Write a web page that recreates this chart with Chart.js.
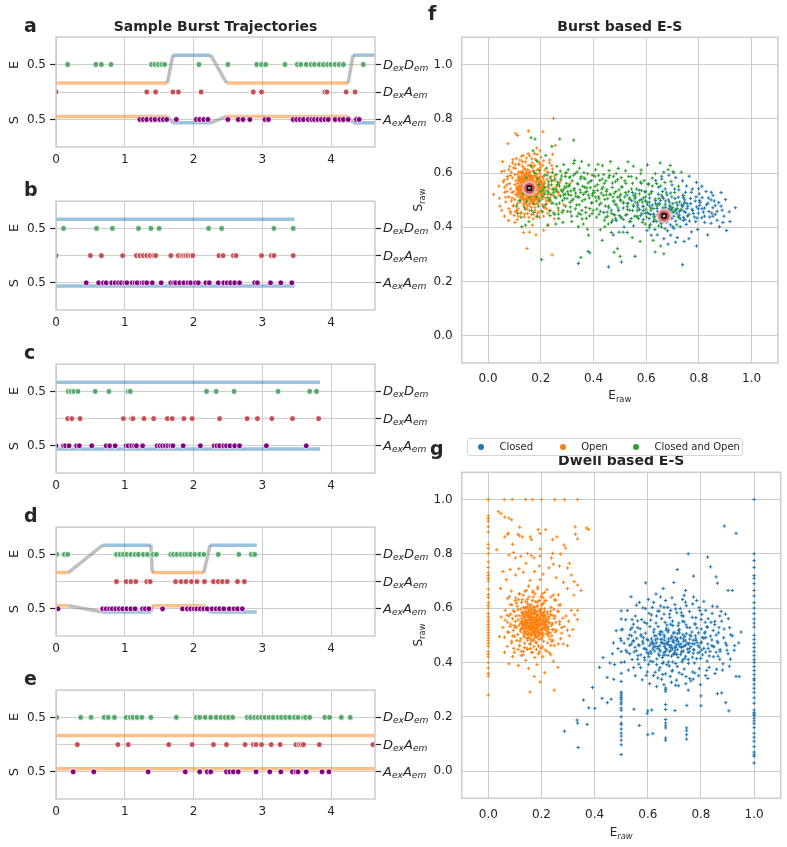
<!DOCTYPE html>
<html><head><meta charset="utf-8">
<script src="https://cdn.jsdelivr.net/npm/chart.js@4.4.1/dist/chart.umd.min.js"></script>
<style>
html,body{margin:0;padding:0;background:#fff}
body{width:787px;height:847px;position:relative;overflow:hidden;font-family:"DejaVu Sans",sans-serif;color:#262626}
canvas{position:absolute}
.lbl{position:absolute;white-space:nowrap;font-family:"DejaVu Sans",sans-serif;color:#262626;line-height:1}
.lbl sub{font-size:0.7em;vertical-align:-0.3em;line-height:0}
.letter{font-size:19px;font-weight:bold;line-height:19px}
.stream{font-size:13px;font-style:italic;line-height:13px}
.axname{font-size:13px;line-height:13px}
.atitle{font-size:12px;line-height:12px}
.legbox{position:absolute;border:1px solid #d6d6d6;border-radius:3px;background:rgba(255,255,255,0.85);box-sizing:border-box}
.legdot{position:absolute;width:6px;height:6px;border-radius:50%}
.legtxt{position:absolute;font-size:10px;line-height:10px;white-space:nowrap;color:#262626}
</style></head><body>
<script>
// ================= DATA =================
// --- burst trajectories (panels a-e) ---
const trajXTicks = [0, 1, 2, 3, 4];
const trajXMax = 4.64;
const streamLevels = [3, 2, 1];               // DexDem, DexAem, AexAem rows
const streamLabels = ['<i>D<sub>ex</sub>D<sub>em</sub></i>', '<i>D<sub>ex</sub>A<sub>em</sub></i>', '<i>A<sub>ex</sub>A<sub>em</sub></i>'];
const leftTickValues = [1, 3];
const leftTickLabels = ['0.5', '0.5'];
const leftAxisNames = ['S', 'E'];
const stateLevelE = {open: 2.33, closed: 3.34};
const stateLevelS = {open: 1.11, closed: 0.88};

const aDD = [0.17,0.58,0.66,0.80,1.39,1.44,1.49,1.54,1.58,2.08,2.50,2.92,2.99,3.05,3.33,3.51,3.56,3.64,3.71,3.76,3.83,3.89,3.95,4.00,4.06,4.12,4.18,4.47];
const aDA = [0.0,1.32,1.45,1.70,1.78,2.11,2.87,2.99,3.91,3.94,4.22,4.35];
const aAA = [1.22,1.27,1.32,1.39,1.44,1.51,1.56,1.61,1.75,2.04,2.09,2.15,2.21,2.50,2.65,2.72,2.82,3.04,3.09,3.45,3.50,3.55,3.60,3.67,3.72,3.76,3.81,3.86,3.91,3.96,4.06,4.13,4.18,4.25,4.37,4.41];
const aDwellStart = [0, 1.70, 2.48, 4.32];
const aDwellEnd = [1.62, 2.25, 4.25, 4.64];
const aDwellState = ['open', 'closed', 'open', 'closed'];

const bDD = [0.11,0.59,0.82,1.20,1.38,1.50,2.22,2.41,3.17,3.45];
const bDA = [0,0.50,0.66,0.97,1.17,1.22,1.27,1.32,1.37,1.42,1.45,1.67,1.78,1.83,1.86,1.89,1.92,1.96,1.99,2.37,2.43,2.58,2.62,2.99,3.13,3.17,3.45];
const bAA = [0.44,0.62,0.69,0.73,0.81,0.86,0.91,0.95,1.00,1.03,1.11,1.15,1.18,1.25,1.28,1.32,1.40,1.53,1.67,1.71,1.74,1.80,1.86,1.92,1.96,2.03,2.07,2.18,2.23,2.36,2.44,2.49,2.54,2.60,2.67,2.89,2.93,3.12,3.27,3.43];
const bDwellStart = [0];
const bDwellEnd = [3.47];
const bDwellState = ['closed'];

const cDD = [0.18,0.22,0.26,0.32,0.57,0.77,1.05,1.08,2.19,2.33,2.59,3.23,3.69,3.79];
const cDA = [0.17,0.23,0.35,0.98,1.10,1.12,1.28,1.42,1.62,1.69,1.86,1.98,2.38,2.78,2.93,3.14,3.44,3.82];
const cAA = [0,0.11,0.14,0.19,0.30,0.34,0.52,0.73,0.78,0.86,1.02,1.05,1.10,1.14,1.17,1.26,1.47,1.51,1.55,1.59,1.63,1.67,1.70,1.85,2.10,2.30,2.34,2.38,2.44,2.48,2.53,2.60,2.67,3.06,3.64];
const cDwellStart = [0];
const cDwellEnd = [3.84];
const cDwellState = ['closed'];

const dDD = [0.01,0.12,0.17,0.88,0.93,0.98,1.03,1.09,1.15,1.20,1.27,1.33,1.41,1.46,1.67,1.71,1.76,1.82,1.87,1.91,1.96,2.02,2.09,2.15,2.36,2.66,2.84,2.89];
const dDA = [0.88,1.02,1.09,1.16,1.32,1.37,1.74,1.82,1.89,1.97,2.05,2.16,2.29,2.36,2.42,2.49,2.64,2.74];
const dAA = [0.03,0.68,0.73,0.78,0.82,0.87,0.92,0.97,1.03,1.09,1.15,1.26,1.30,1.35,1.55,1.84,1.91,1.96,2.01,2.05,2.10,2.15,2.20,2.27,2.33,2.38,2.44,2.52,2.59,2.64,2.71];
const dDwellStart = [0, 0.68, 1.40, 2.24];
const dDwellEnd = [0.18, 1.38, 2.15, 2.92];
const dDwellState = ['open', 'closed', 'open', 'closed'];

const eDD = [0.01,0.36,0.51,0.70,0.76,0.85,1.02,1.08,1.12,1.18,1.25,1.38,1.75,2.04,2.09,2.17,2.25,2.33,2.40,2.46,2.51,2.57,2.78,2.83,2.89,2.94,2.99,3.04,3.10,3.16,3.23,3.28,3.34,3.40,3.47,3.52,3.60,3.63,3.69,3.91,3.98,4.15,4.28];
const eDA = [0.31,0.90,1.05,1.64,1.98,2.29,2.48,2.75,2.87,2.91,2.99,3.13,3.26,3.49,3.54,3.57,3.60,3.83,4.61];
const eAA = [0.25,0.55,1.34,1.88,2.09,2.20,2.25,2.48,2.53,2.58,2.65,2.91,3.11,3.27,3.44,3.49,3.52,3.64,3.87,3.97];
const eDwellStart = [0];
const eDwellEnd = [4.64];
const eDwellState = ['open'];

// --- E-S scatter (panels f, g) ---
const esTicks = [0, 0.2, 0.4, 0.6, 0.8, 1.0];
const seriesNames = ['Closed', 'Open', 'Closed and Open'];
const seriesColors = ['#1f77b4', '#ff7f0e', '#2ca02c'];
const stateCenterE = [0.157, 0.668];
const stateCenterS = [0.544, 0.442];

const fOpen = [[.152,.548],[.138,.561],[.171,.532],[.163,.575],[.128,.522],[.184,.556],[.147,.507],[.196,.541],[.119,.553],[.158,.592],
[.175,.498],[.133,.584],[.201,.571],[.142,.536],[.166,.514],[.109,.538],[.188,.523],[.155,.566],[.124,.497],[.179,.589],
[.137,.545],[.162,.551],[.149,.528],[.171,.561],[.116,.571],[.193,.505],[.145,.603],[.208,.552],[.131,.511],[.168,.539],
[.157,.482],[.102,.557],[.185,.577],[.139,.569],[.176,.546],[.123,.536],[.198,.588],[.161,.527],[.144,.556],[.213,.531],
[.129,.598],[.172,.606],[.153,.517],[.111,.515],[.189,.542],[.136,.489],[.167,.582],[.204,.518],[.148,.574],[.119,.584],
[.181,.511],[.158,.535],[.097,.531],[.143,.521],[.174,.522],[.132,.551],[.195,.563],[.165,.497],[.127,.565],[.151,.612],
[.186,.596],[.115,.545],[.209,.579],[.141,.492],[.169,.568],[.134,.529],[.178,.534],[.156,.559],[.106,.572],[.192,.529],
[.147,.542],[.163,.505],[.122,.508],[.183,.568],[.138,.617],[.214,.561],[.159,.583],[.126,.547],[.171,.515],[.149,.565],
[.101,.503],[.197,.552],[.135,.575],[.166,.623],[.118,.527],[.187,.487],[.154,.526],[.143,.587],[.205,.539],[.129,.538],
[.177,.555],[.162,.542],[.113,.596],[.191,.613],[.139,.502],[.168,.549],[.152,.571],[.182,.502],[.124,.576],[.218,.546],
[.085,.541],[.092,.582],[.078,.512],[.231,.558],[.226,.521],[.238,.587],[.095,.478],[.104,.617],[.245,.541],[.088,.603],
[.221,.497],[.157,.461],[.142,.466],[.178,.472],[.167,.637],[.131,.642],[.197,.632],[.114,.468],[.205,.483],[.071,.556],
[.082,.625],[.251,.572],[.236,.508],[.104,.458],[.123,.451],[.188,.452],[.215,.611],[.228,.602],[.145,.655],[.179,.651],
[.063,.529],[.067,.493],[.257,.532],[.094,.649],[.211,.645],[.165,.447],[.137,.438],[.203,.461],[.079,.469],[.245,.615],
[.116,.634],[.073,.587],[.263,.557],[.241,.488],[.152,.671],[.186,.668],[.099,.444],[.222,.468],[.058,.567],[.269,.519],
[.127,.662],[.084,.458],[.233,.637],[.171,.431],[.111,.428],[.195,.437],[.061,.608],[.276,.571],[.227,.452],[.091,.508],
[.021,.521],[.045,.478],[.052,.463],[.041,.552],[.055,.642],[.075,.708],[.105,.745],[.112,.738],[.153,.755],[.208,.752],
[.248,.801],[.255,.702],[.185,.692],[.197,.682],[.245,.669],[.135,.381],[.148,.322],[.243,.298],[.168,.408],[.102,.418],
[.078,.425],[.282,.537],[.295,.598],[.311,.561],[.268,.461],[.287,.483],[.043,.507],[.062,.441],[.228,.409],[.211,.389],
[.182,.372],[.157,.382],[.251,.431],[.051,.605],[.394,.592]];
const fOpenCore = [[.143,.533],[.167,.557],[.128,.541],[.189,.518],[.154,.596],[.112,.562],[.176,.503],[.201,.547],[.137,.578],[.161,.521],
[.183,.584],[.121,.493],[.148,.552],[.194,.566],[.132,.515],[.171,.609],[.158,.487],[.207,.529],[.116,.548],[.145,.569],
[.179,.541],[.125,.603],[.166,.534],[.191,.497],[.139,.557],[.154,.512],[.213,.568],[.106,.521],[.171,.578],[.147,.499],
[.186,.551],[.131,.544],[.162,.591],[.199,.523],[.118,.586],[.153,.538],[.174,.513],[.136,.598],[.208,.587],[.164,.474],
[.141,.527],[.182,.536],[.127,.559],[.157,.604],[.195,.552],[.113,.527],[.169,.491],[.148,.581],[.186,.611],[.134,.481],
[.172,.552],[.151,.543],[.123,.512],[.204,.503],[.161,.567],[.138,.589],[.189,.572],[.144,.508],[.176,.628],[.117,.604],
[.158,.519],[.199,.571],[.133,.532],[.168,.586],[.109,.548],[.185,.489],[.146,.561],[.214,.547],[.128,.579],[.163,.496],
[.179,.564],[.139,.521],[.193,.538],[.152,.629],[.121,.538],[.174,.539],[.145,.485],[.206,.558],[.134,.566],[.167,.508],
[.187,.525],[.125,.551],[.159,.577],[.142,.546],[.196,.599],[.114,.581],[.172,.529],[.151,.502],[.184,.543],[.131,.607],
[.165,.562],[.118,.521],[.201,.534],[.147,.595],[.177,.484],[.139,.538],[.157,.553],[.191,.509],[.126,.589],[.169,.621],
[.153,.514],[.182,.597],[.135,.502],[.211,.521],[.163,.545],[.122,.567],[.148,.536],[.194,.582],[.173,.571],[.141,.612],
[.186,.505],[.116,.534],[.156,.528],[.178,.592],[.132,.573],[.203,.564],[.149,.478],[.168,.525],[.127,.503],[.192,.551],
[.144,.592],[.161,.502],[.183,.558],[.111,.542],[.137,.527],[.175,.499],[.156,.587],[.198,.542],[.129,.546],[.166,.548],
[.181,.521],[.146,.519],[.119,.575],[.188,.582],[.152,.561],[.171,.537],[.134,.552],[.209,.512],[.158,.604],[.124,.529]];
const fOpenRing = [[.072,.532],[.081,.561],[.089,.497],[.096,.619],[.232,.542],[.241,.571],[.229,.498],[.247,.518],[.084,.591],[.226,.603],
[.108,.462],[.126,.455],[.149,.451],[.171,.448],[.194,.457],[.213,.472],[.103,.631],[.121,.648],[.143,.641],[.166,.652],
[.188,.642],[.207,.628],[.067,.511],[.259,.551],[.074,.578],[.253,.589],[.097,.481],[.222,.486],[.118,.631],[.199,.619],
[.063,.548],[.266,.528],[.086,.452],[.238,.462],[.079,.612],[.242,.628],[.133,.665],[.176,.671],[.155,.437],[.211,.441],
[.114,.441],[.061,.574],[.271,.563],[.093,.638],[.234,.648],[.138,.448],[.183,.439],[.158,.663],[.201,.658],[.107,.653],
[.091,.528],[.237,.521],[.102,.594],[.224,.577],[.112,.487],[.217,.508],[.131,.624],[.196,.638],[.148,.468],[.179,.461]];

const fBoth = [[.112,.452],[.125,.437],[.138,.472],[.148,.494],[.165,.462],[.172,.487],[.183,.512],[.191,.478],[.176,.601],[.162,.627],
[.185,.645],[.171,.682],[.178,.725],[.163,.73],[.145,.582],[.192,.558],[.199,.531],[.155,.421],[.142,.408],[.187,.441],
[.132,.523],[.118,.498],[.196,.609],[.181,.543],[.158,.511],[.128,.402],[.108,.478],[.195,.497],[.174,.455],[.189,.579],
[.205,.512],[.212,.548],[.218,.483],[.224,.534],[.229,.567],[.233,.502],[.238,.521],[.241,.556],[.246,.489],[.251,.541],
[.254,.578],[.258,.508],[.262,.532],[.266,.471],[.271,.552],[.275,.515],[.279,.589],[.283,.498],[.288,.541],[.292,.523],
[.297,.562],[.207,.457],[.215,.592],[.222,.618],[.235,.443],[.244,.602],[.253,.448],[.261,.625],[.268,.432],[.274,.607],
[.281,.455],[.287,.631],[.294,.478],[.299,.506],[.209,.538],[.227,.509],[.248,.527],[.264,.558],[.277,.537],[.291,.549],
[.203,.281],[.226,.407],[.242,.698],[.257,.412],[.284,.418],[.296,.602],[.219,.665],[.236,.582],[.272,.725],[.259,.485],
[.302,.531],[.306,.553],[.311,.492],[.315,.518],[.319,.571],[.323,.504],[.327,.543],[.332,.526],[.336,.482],[.341,.559],
[.345,.511],[.349,.538],[.353,.587],[.357,.497],[.362,.521],[.366,.548],[.371,.473],[.375,.532],[.379,.563],[.384,.508],
[.388,.546],[.392,.489],[.397,.525],[.304,.612],[.313,.457],[.325,.635],[.338,.441],[.347,.618],[.356,.462],[.364,.601],
[.373,.433],[.382,.629],[.395,.451],[.309,.583],[.331,.598],[.352,.447],[.368,.578],[.386,.469],[.399,.592],[.318,.421],
[.343,.402],[.361,.412],[.377,.393],[.328,.646],[.355,.643],[.381,.371],[.312,.475],[.352,.289],[.386,.306],[.325,.721],
[.402,.528],[.406,.551],[.411,.497],[.415,.536],[.419,.512],[.424,.573],[.428,.489],[.432,.541],[.437,.518],[.441,.562],
[.445,.478],[.449,.532],[.454,.505],[.458,.584],[.462,.521],[.467,.463],[.471,.547],[.475,.496],[.479,.526],[.484,.568],
[.488,.482],[.492,.511],[.497,.538],[.408,.612],[.421,.448],[.434,.627],[.447,.437],[.459,.609],[.472,.426],[.486,.598],
[.413,.467],[.439,.594],[.452,.456],[.465,.642],[.481,.445],[.494,.617],[.426,.391],[.443,.402],[.468,.381],[.491,.321],
[.417,.632],[.456,.412],[.478,.308],[.433,.352],
[.503,.521],[.508,.548],[.513,.489],[.518,.512],[.523,.562],[.528,.476],[.533,.531],[.538,.503],[.543,.587],[.548,.462],
[.553,.517],[.558,.493],[.563,.541],[.568,.472],[.574,.523],[.579,.598],[.584,.451],[.589,.508],[.594,.531],[.599,.467],
[.506,.435],[.521,.608],[.536,.421],[.551,.625],[.566,.438],[.581,.611],[.596,.412],[.512,.382],[.547,.362],[.577,.348],
[.501,.293],[.531,.641],
[.604,.492],[.611,.521],[.618,.463],[.623,.552],[.629,.437],[.635,.598],[.641,.478],[.648,.506],[.653,.421],[.659,.588],
[.664,.452],[.671,.395],[.677,.527],[.683,.612],[.689,.438],[.694,.569],[.701,.472],[.708,.528],[.716,.409],[.723,.551],
[.731,.462],[.742,.517],[.612,.398],[.626,.352],[.634,.309],[.667,.302],[.655,.331],[.691,.628],[.605,.63],[.653,.637],
[.733,.603],[.758,.442],[.702,.605]];
const fBothMore = [[.215,.523],[.228,.551],[.236,.497],[.247,.538],[.253,.512],[.264,.566],[.271,.489],[.282,.531],[.289,.507],[.298,.548],
[.305,.521],[.311,.586],[.318,.498],[.326,.537],[.333,.515],[.339,.562],[.346,.483],[.352,.528],[.359,.551],[.367,.502],
[.374,.545],[.381,.519],[.387,.568],[.394,.491],[.401,.535],[.408,.511],[.416,.557],[.423,.483],[.429,.526],[.436,.548],
[.443,.503],[.451,.539],[.457,.478],[.464,.521],[.472,.563],[.478,.497],[.485,.532],[.493,.471],[.499,.512],[.507,.549],
[.514,.492],[.521,.528],[.529,.466],[.536,.508],[.544,.541],[.551,.482],[.559,.523],[.566,.461],[.574,.498],[.582,.535],
[.589,.476],[.597,.512],[.604,.455],[.612,.493],[.619,.526],[.627,.469],[.634,.504],[.643,.447],[.651,.485],[.658,.518],
[.666,.463],[.673,.497],[.681,.441],[.689,.479],[.697,.512],[.706,.458],[.714,.491],[.722,.437],[.211,.476],[.224,.592],
[.233,.461],[.242,.572],[.249,.453],[.258,.594],[.267,.449],[.276,.578],[.285,.462],[.293,.587],[.302,.458],[.309,.553],
[.317,.441],[.324,.592],[.331,.468],[.338,.604],[.344,.452],[.351,.579],[.357,.431],[.364,.582],[.371,.454],[.378,.597],
[.385,.442],[.392,.572],[.399,.463],[.406,.588],[.412,.437],[.419,.592],[.426,.459],[.433,.578],[.441,.426],[.447,.571],
[.454,.441],[.461,.591],[.468,.452],[.476,.588],[.483,.432],[.491,.576],[.498,.443],[.505,.583],[.513,.429],[.519,.571],
[.527,.447],[.534,.587],[.541,.421],[.548,.562],[.556,.441],[.563,.581],[.571,.432],[.578,.566],[.585,.418],[.592,.572],
[.601,.438],[.608,.561],[.616,.411],[.623,.581],[.632,.428],[.639,.561],[.647,.405],[.655,.552],[.663,.421],[.671,.565],
[.229,.529],[.259,.541],[.287,.519],[.314,.534],[.341,.511],[.369,.529],[.396,.517],[.421,.505],[.448,.519],[.474,.512],
[.502,.501],[.531,.489],[.557,.505],[.586,.493],[.613,.478],[.642,.483],[.668,.471],[.694,.462],[.719,.468],[.741,.485]];

const fClosed = [[.682,.462],[.675,.448],[.691,.478],[.663,.471],[.702,.455],[.657,.442],[.714,.467],[.648,.487],[.723,.441],[.688,.493],
[.671,.428],[.697,.432],[.734,.482],[.643,.458],[.709,.506],[.661,.512],[.679,.519],[.726,.458],[.652,.425],[.741,.437],
[.618,.471],[.628,.449],[.635,.498],[.611,.432],[.746,.501],[.755,.469],[.762,.448],[.769,.487],[.605,.485],[.597,.452],
[.588,.478],[.581,.502],[.574,.465],[.567,.489],[.559,.512],[.552,.477],[.545,.498],[.538,.463],[.529,.487],[.776,.462],
[.783,.438],[.791,.475],[.798,.452],[.805,.492],[.812,.468],[.821,.441],[.829,.483],[.838,.458],[.846,.501],[.853,.472],
[.862,.448],[.875,.491],[.888,.463],[.901,.502],[.915,.457],[.938,.472],[.522,.445],[.513,.471],[.504,.438],[.495,.462],
[.486,.425],[.477,.447],[.468,.418],[.612,.405],[.633,.392],[.658,.401],[.681,.387],[.705,.396],[.729,.402],[.752,.411],
[.642,.372],[.667,.358],[.693,.371],[.718,.362],[.744,.348],[.772,.383],[.795,.392],[.822,.418],[.846,.415],[.869,.426],
[.621,.532],[.647,.548],[.672,.541],[.698,.556],[.724,.538],[.749,.529],[.775,.541],[.801,.523],[.827,.532],[.853,.518],
[.598,.531],[.573,.537],[.548,.528],[.659,.578],[.686,.592],[.712,.583],[.738,.571],[.763,.588],[.791,.565],[.811,.551],
[.636,.572],[.704,.601],[.667,.603],[.608,.557],[.582,.563],[.527,.519],[.503,.498],[.482,.485],[.458,.472],[.439,.455],
[.788,.421],[.741,.425],[.692,.409],[.638,.421],[.589,.428],[.565,.441],[.543,.432],[.516,.401],[.497,.382],[.475,.372],
[.343,.267],[.38,.311],[.457,.254],[.506,.272],[.558,.293],[.738,.262],[.791,.331],[.833,.372],[.878,.402],[.905,.388],
[.918,.421],[.891,.418],[.862,.481],[.884,.528],[.853,.441],[.619,.371],[.603,.388],[.552,.405],[.528,.381],[.762,.358],
[.711,.345],[.683,.338]];
const fClosedMore = [[.694,.471],[.716,.452],[.738,.476],[.661,.459],[.683,.437],[.727,.493],[.749,.455],[.672,.485],[.705,.441],[.758,.478],
[.641,.469],[.689,.452],[.732,.466],[.779,.451],[.654,.498],[.701,.487],[.746,.491],[.798,.468],[.623,.482],[.667,.447],
[.712,.423],[.757,.442],[.803,.481],[.631,.441],[.678,.418],[.722,.511],[.768,.506],[.817,.456],[.646,.522],[.693,.526],
[.739,.518],[.786,.497],[.834,.489],[.608,.451],[.657,.413],[.701,.402],[.747,.429],[.793,.434],[.841,.438],[.613,.508],
[.662,.532],[.708,.541],[.753,.552],[.799,.542],[.847,.529],[.589,.462],[.636,.487],[.684,.501],[.729,.431],[.774,.467],
[.821,.471],[.869,.459],[.597,.497],[.648,.442],[.696,.466],[.742,.509],[.789,.512],[.836,.508],[.884,.478],[.579,.443],
[.627,.421],[.674,.474],[.719,.482],[.764,.423],[.811,.435],[.858,.497],[.568,.481],[.617,.447],[.665,.506],[.711,.463],
[.755,.487],[.802,.498],[.849,.452],[.895,.441],[.743,.459],[.687,.468],[.658,.452],[.725,.445],[.771,.529],[.812,.509]];

const gOpen = [[.172,.548],[.158,.561],[.185,.532],[.163,.579],[.141,.522],[.197,.556],[.151,.507],[.209,.541],[.129,.553],[.176,.592],
[.188,.498],[.143,.584],[.214,.571],[.155,.536],[.179,.514],[.117,.538],[.201,.523],[.166,.566],[.134,.497],[.192,.589],
[.148,.545],[.175,.551],[.161,.528],[.184,.561],[.126,.571],[.206,.505],[.157,.603],[.221,.552],[.139,.511],[.181,.539],
[.169,.482],[.112,.557],[.198,.577],[.152,.569],[.187,.546],[.133,.536],[.211,.588],[.173,.527],[.156,.556],[.226,.531],
[.138,.598],[.183,.606],[.164,.517],[.121,.515],[.202,.542],[.146,.489],[.178,.582],[.217,.518],[.159,.574],[.127,.584],
[.193,.511],[.168,.535],[.107,.531],[.153,.521],[.186,.522],[.142,.551],[.208,.563],[.177,.497],[.136,.565],[.162,.612],
[.199,.596],[.124,.545],[.222,.579],[.151,.492],[.181,.568],[.144,.529],[.191,.534],[.167,.559],[.115,.572],[.205,.529],
[.158,.542],[.174,.505],[.131,.508],[.196,.568],[.148,.617],[.228,.561],[.171,.583],[.135,.547],[.184,.515],[.161,.565],
[.111,.503],[.212,.552],[.145,.575],[.177,.623],[.128,.527],[.199,.487],[.165,.526],[.153,.587],[.218,.539],[.139,.538],
[.189,.555],[.174,.542],[.122,.596],[.204,.613],[.149,.502],[.179,.549],[.163,.571],[.194,.502],[.133,.576],[.231,.546],
[.147,.632],[.169,.641],[.192,.628],[.125,.621],[.213,.627],[.156,.468],[.182,.472],[.137,.471],[.208,.478],[.102,.551],
[.098,.587],[.235,.589],[.241,.521],[.094,.518],[.119,.478],[.227,.497],[.171,.458],[.146,.452],[.197,.453],[.248,.562],
[.085,.541],[.078,.571],[.072,.512],[.255,.548],[.252,.512],[.262,.587],[.088,.478],[.101,.627],[.268,.541],[.083,.613],
[.244,.482],[.164,.437],[.132,.441],[.214,.446],[.168,.658],[.138,.662],[.203,.652],[.112,.448],[.235,.463],[.063,.556],
[.073,.635],[.271,.612],[.276,.508],[.098,.438],[.124,.425],[.189,.432],[.236,.641],[.251,.632],[.152,.681],[.186,.678],
[.055,.529],[.061,.493],[.285,.532],[.087,.663],[.221,.668],[.175,.418],[.141,.408],[.205,.421],[.071,.459],[.264,.649],
[.116,.652],[.064,.592],[.292,.571],[.263,.468],[.157,.702],[.195,.705],[.091,.421],[.235,.428],[.048,.567],[.298,.519],
[.302,.552],[.312,.592],[.305,.498],[.282,.468],[.061,.437],[.042,.495],[.245,.405],[.262,.382],[.183,.392],[.151,.378],
[.113,.389],[.212,.362],[.173,.348],[.078,.395],[.298,.462],[.318,.521],[.325,.575],[.195,.328],[.157,.291],[.248,.298],
[.336,.592],[.335,.558],
[.038,.955],[.048,.948],[.062,.935],[.078,.931],[.088,.925],[.062,.862],[.075,.875],[.072,.872],[.091,.835],[.117,.866],
[.128,.862],[.158,.862],[.162,.852],[.118,.898],[.112,.872],[.188,.889],[.195,.875],[.216,.889],[.242,.852],[.258,.862],
[.327,.899],[.328,.872],[.369,.895],[.032,.815],[.078,.795],[.102,.785],[.095,.805],[.122,.791],[.148,.801],[.162,.793],
[.172,.785],[.195,.792],[.238,.785],[.242,.802],[.195,.818],[.285,.832],[.291,.821],[.245,.762],[.272,.799],[.305,.765],
[.298,.748],[.268,.755],[.228,.748],[.192,.755],[.142,.765],[.115,.745],[.082,.742],[.055,.735],[.068,.705],[.103,.722],
[.132,.732],[.174,.735],[.206,.725],[.255,.712],[.283,.695],[.312,.722],[.323,.698],[.336,.685],[.349,.665],[.322,.648],
[.298,.672],[.046,.672],[.377,.89],[.336,.855]];
const gOpenCore = [[.157,.531],[.181,.556],[.142,.542],[.203,.519],[.168,.597],[.126,.561],[.189,.504],[.215,.548],[.151,.579],[.174,.522],
[.196,.583],[.135,.494],[.162,.553],[.207,.567],[.146,.514],[.185,.608],[.172,.488],[.221,.528],[.131,.547],[.159,.568],
[.193,.542],[.139,.602],[.179,.535],[.205,.496],[.153,.558],[.168,.511],[.227,.569],[.121,.522],[.185,.577],[.161,.498],
[.199,.552],[.145,.543],[.176,.592],[.212,.524],[.132,.585],[.167,.537],[.188,.514],[.149,.597],[.222,.586],[.178,.475],
[.155,.526],[.196,.537],[.141,.558],[.171,.603],[.209,.553],[.127,.526],[.183,.492],[.162,.582],[.199,.612],[.148,.482],
[.186,.553],[.165,.544],[.137,.513],[.218,.504],[.175,.566],[.152,.588],[.203,.573],[.158,.507],[.191,.627],[.131,.603],
[.172,.518],[.213,.572],[.147,.533],[.182,.587],[.123,.549],[.199,.488],[.161,.562],[.228,.546],[.142,.578],[.177,.497],
[.193,.563],[.153,.522],[.207,.539],[.166,.628],[.135,.539],[.188,.538],[.159,.486],[.221,.557],[.148,.567],[.181,.509],
[.201,.524],[.139,.552],[.173,.576],[.156,.547],[.211,.598],[.128,.582],[.186,.528],[.165,.503],[.198,.544],[.145,.606],
[.179,.561],[.132,.522],[.215,.533],[.161,.594],[.191,.485],[.153,.537],[.171,.552],[.205,.508],[.141,.588],[.183,.622],
[.167,.513],[.196,.596],[.149,.503],[.225,.522],[.177,.546],[.136,.568],[.162,.535],[.208,.581],[.187,.572],[.155,.611],
[.199,.506],[.129,.535],[.171,.529],[.192,.593],[.146,.574],[.217,.563],[.163,.479],[.182,.526],[.141,.504],[.206,.552],
[.158,.593],[.175,.503],[.197,.557],[.125,.543],[.151,.528],[.189,.498],[.169,.586],[.212,.541],[.143,.546],[.179,.549],
[.195,.521],[.161,.518],[.133,.576],[.202,.583],[.166,.562],[.185,.536],[.148,.553],[.223,.512],[.172,.604],[.138,.529],
[.097,.536],[.104,.571],[.238,.537],[.243,.573],[.092,.497],[.233,.509],[.109,.607],[.247,.596],[.117,.462],[.239,.478]];
const gOpenRing = [[.082,.532],[.091,.561],[.099,.497],[.106,.619],[.242,.542],[.251,.571],[.239,.498],[.257,.518],[.094,.591],[.236,.603],
[.118,.462],[.136,.455],[.159,.451],[.181,.448],[.204,.457],[.223,.472],[.113,.631],[.131,.648],[.153,.641],[.176,.652],
[.198,.642],[.217,.628],[.077,.511],[.269,.551],[.084,.578],[.263,.589],[.107,.481],[.232,.486],[.128,.631],[.209,.619],
[.073,.548],[.276,.528],[.096,.452],[.248,.462],[.089,.612],[.252,.628],[.143,.665],[.186,.671],[.165,.437],[.221,.441],
[.124,.441],[.071,.574],[.281,.563],[.103,.638],[.244,.648],[.148,.448],[.193,.439],[.168,.663],[.211,.658],[.117,.653],
[.101,.528],[.247,.521],[.112,.594],[.234,.577],[.122,.487],[.227,.508],[.141,.624],[.206,.638],[.158,.468],[.189,.461],
[.266,.611],[.272,.488],[.088,.472],[.079,.642],[.231,.435],[.131,.428]];
const gOpenAtE0 = [1,.94,.93,.92,.9,.88,.835,.82,.8,.77,.75,.73,.72,.71,.7,.67,.65,.64,.62,.61,.6,.58,.57,.56,.55,.54,.53,.52,.51,.5,.49,.48,.47,.46,.44,.43,.42,.4,.38,.36,.35,.28];
const gOpenAtS1 = [0,.06,.09,.14,.165,.2,.25,.286,.336];

const gClosed = [[.682,.462],[.671,.448],[.694,.478],[.658,.471],[.705,.455],[.647,.442],[.717,.467],[.636,.487],[.728,.441],[.689,.493],
[.665,.428],[.699,.432],[.741,.482],[.628,.458],[.711,.506],[.654,.512],[.678,.519],[.733,.458],[.643,.425],[.752,.437],
[.612,.471],[.619,.449],[.625,.498],[.603,.432],[.758,.501],[.767,.469],[.772,.448],[.781,.487],[.597,.485],[.589,.452],
[.581,.478],[.574,.502],[.566,.465],[.558,.489],[.552,.512],[.545,.477],[.539,.498],[.532,.463],[.526,.487],[.789,.462],
[.795,.438],[.802,.475],[.811,.452],[.818,.492],[.826,.468],[.834,.441],[.841,.483],[.849,.458],[.857,.501],[.864,.472],
[.872,.448],[.885,.491],[.897,.463],[.912,.502],[.518,.445],[.511,.471],[.522,.438],[.535,.522],[.546,.541],[.562,.528],
[.587,.548],[.608,.532],[.631,.545],[.652,.561],[.672,.538],[.693,.552],[.714,.535],[.737,.549],[.758,.528],[.779,.541],
[.801,.523],[.823,.532],[.846,.518],[.868,.529],[.614,.575],[.638,.589],[.661,.578],[.686,.592],[.709,.583],[.734,.571],
[.757,.588],[.781,.565],[.803,.577],[.827,.561],[.852,.551],[.577,.558],[.553,.571],[.592,.598],[.648,.608],[.675,.603],
[.702,.613],[.722,.598],[.745,.609],[.769,.615],[.793,.602],[.818,.592],[.622,.621],[.667,.628],[.731,.632],[.784,.628],
[.609,.405],[.633,.392],[.658,.401],[.681,.387],[.705,.396],[.729,.402],[.752,.411],[.776,.398],[.799,.415],[.823,.405],
[.847,.421],[.871,.412],[.587,.418],[.563,.425],[.541,.411],[.642,.372],[.667,.358],[.693,.371],[.718,.362],[.744,.348],
[.769,.365],[.794,.377],[.818,.352],[.573,.381],[.598,.365],[.622,.352],[.652,.338],[.708,.335],[.762,.332],[.831,.382],
[.859,.375],[.883,.395],[.902,.432],[.925,.445],[.942,.472],[.951,.512],[.908,.528],[.878,.552],[.892,.578],[.861,.605],
[.664,.482],[.687,.445],[.712,.487],[.739,.462],[.756,.471],[.697,.508],[.675,.472],[.623,.468],[.648,.502],[.709,.429],
[.888,.902],[.932,.875],[.752,.8],[.825,.788],[.836,.752],[.711,.742],[.857,.715],[.862,.692],[.902,.665],[.918,.665],
[.658,.672],[.698,.694],[.772,.718],[.742,.665],[.592,.693],[.631,.652],[.557,.611],[.537,.642],[.467,.432],[.458,.398],
[.432,.418],[.447,.345],[.472,.338],[.392,.308],[.401,.231],[.378,.233],[.358,.262],[.334,.188],[.336,.177],[.287,.147],
[.372,.172],[.338,.087],[.418,.382],[.462,.265],[.475,.392],[.428,.268],[.448,.252],[.548,.228],[.598,.213],[.619,.138],
[.615,.225],[.702,.223],[.747,.242],[.752,.298],[.791,.351],[.862,.285],[.878,.288],[.893,.252],[.905,.222],[.932,.349],
[.944,.348],[.568,.168],[.6,.222],[.6,.134],[.8,.277],[.8,.241],[.746,.159],[.746,.149],[.746,.134],[.746,.118]];
const gClosedCore = [[.671,.471],[.693,.452],[.715,.476],[.638,.459],[.661,.437],[.704,.493],[.726,.455],[.649,.485],[.682,.441],[.735,.478],
[.618,.469],[.667,.452],[.709,.466],[.756,.451],[.631,.498],[.678,.487],[.723,.491],[.775,.468],[.601,.482],[.644,.447],
[.689,.423],[.734,.442],[.781,.481],[.609,.441],[.655,.418],[.699,.511],[.745,.506],[.794,.456],[.624,.522],[.671,.526],
[.716,.518],[.763,.497],[.811,.489],[.586,.451],[.634,.413],[.678,.402],[.724,.429],[.771,.434],[.818,.438],[.591,.508],
[.639,.532],[.686,.541],[.731,.552],[.777,.542],[.824,.529],[.567,.462],[.614,.487],[.661,.501],[.707,.431],[.752,.467],
[.799,.471],[.846,.459],[.575,.497],[.626,.442],[.673,.466],[.719,.509],[.766,.512],[.813,.508],[.861,.478],[.557,.443],
[.604,.421],[.651,.474],[.697,.482],[.742,.423],[.789,.435],[.836,.497],[.546,.481],[.594,.447],[.643,.506],[.688,.463],
[.733,.487],[.779,.498],[.827,.452],[.872,.441],[.721,.459],[.664,.468],[.636,.452],[.702,.445],[.748,.529],[.791,.509],
[.685,.455],[.708,.482],[.652,.472],[.727,.438],[.663,.494],[.696,.429],[.741,.463],[.621,.457],[.758,.486],[.676,.512],
[.613,.434],[.732,.502],[.658,.427],[.774,.446],[.691,.497],[.629,.483],[.747,.472],[.582,.469],[.703,.458],[.667,.441],
[.714,.419],[.645,.461],[.786,.473],[.597,.436],[.739,.414],[.679,.478],[.622,.512],[.757,.439],[.694,.536],[.648,.514],
[.803,.446],[.571,.524],[.717,.545],[.665,.548],[.744,.538],[.611,.556],[.785,.527],[.683,.565],[.633,.571],[.728,.572],
[.816,.512],[.596,.543],[.672,.392],[.711,.385],[.646,.381],[.753,.397],[.603,.393],[.691,.368],[.737,.376],[.628,.364],
[.784,.414],[.562,.412],[.831,.424],[.549,.439],[.857,.438],[.538,.468],[.866,.509],[.531,.501],[.852,.539],[.541,.528],
[.698,.473],[.654,.486],[.711,.447],[.676,.426],[.739,.496],[.617,.476],[.762,.458],[.584,.491],[.806,.492],[.641,.431],
[.725,.468],[.687,.488],[.662,.459],[.701,.436],[.749,.449],[.632,.472],[.771,.482],[.607,.462],[.719,.521],[.669,.519],
[.694,.402],[.656,.396],[.731,.409],[.619,.403],[.768,.419],[.589,.409],[.806,.428],[.574,.428],[.841,.462],[.552,.456],
[.682,.578],[.726,.583],[.643,.589],[.767,.566],[.605,.581],[.801,.558],[.562,.553],[.838,.548],[.705,.597],[.661,.603]];
const gClosedOuter = [[.512,.402],[.527,.372],[.553,.351],[.579,.336],[.607,.322],[.633,.311],[.661,.318],[.689,.327],[.716,.314],[.743,.322],
[.771,.339],[.798,.318],[.826,.341],[.853,.359],[.881,.372],[.907,.386],[.488,.451],[.497,.488],[.505,.522],[.517,.557],
[.523,.591],[.568,.621],[.602,.632],[.648,.641],[.691,.638],[.737,.647],[.772,.641],[.811,.625],[.843,.607],[.876,.588],
[.903,.561],[.918,.498],[.927,.462],[.911,.412],[.893,.471],[.887,.523],[.871,.571],[.842,.581],[.816,.548],[.547,.381],
[.594,.352],[.638,.343],[.684,.349],[.729,.356],[.777,.361],[.822,.371],[.532,.432],[.541,.558],[.582,.601],[.617,.603],
[.742,.622],[.796,.591],[.864,.423],[.898,.445],[.481,.517],[.471,.472],[.566,.394],[.705,.316],[.656,.356],[.758,.341]];
const gClosedAtE1 = [1,.8,.775,.75,.72,.71,.69,.665,.645,.62,.6,.58,.56,.545,.53,.5,.485,.47,.455,.44,.425,.41,.4,.385,.37,.355,.34,.335,.32,.305,.29,.27,.25,.225,.215,.21,.205,.195,.185,.175,.16,.14,.125,.11,.09,.07,.06,.055,.03];
const gClosedAtE05 = [.59,.56,.52,.48,.44,.4,.36,.33,.291,.285,.277,.271,.263,.254,.247,.232,.224,.2,.177,.171,.155,.14,.129,.114,.097,.061];
const gClosedAtE067 = [.306,.3,.294,.245,.227,.19,.177,.167,.159,.122,.114];

// ================= RENDERING =================
const F = "'DejaVu Sans', sans-serif";
const TXT = '#262626', GRID = '#cccccc';
const LINE_OPEN = 'rgba(255,127,14,0.5)', LINE_CLOSED = 'rgba(31,119,180,0.45)', LINE_TRANS = 'rgba(127,127,127,0.5)';
const DOT_DD = '#55a868', DOT_DA = '#c44e52', DOT_AA = '#800080';

function addCanvas(left, top, w, h) {
  const c = document.createElement('canvas');
  c.width = w; c.height = h;
  c.style.left = left + 'px'; c.style.top = top + 'px';
  c.style.width = w + 'px'; c.style.height = h + 'px';
  document.body.appendChild(c);
  return c;
}
function addLabel(html, x, y, cls, transform) {
  const d = document.createElement('div');
  d.className = 'lbl ' + (cls || '');
  d.innerHTML = html;
  d.style.left = x + 'px'; d.style.top = y + 'px';
  d.style.transform = transform || 'translate(0,-50%)';
  document.body.appendChild(d);
  return d;
}
const framePlugin = {
  id: 'frame',
  afterDraw(chart) {
    const {ctx, chartArea: a} = chart;
    ctx.save(); ctx.strokeStyle = GRID; ctx.lineWidth = 1.5;
    ctx.strokeRect(a.left, a.top, a.right - a.left, a.bottom - a.top);
    ctx.restore();
  }
};

function trajDatasets(dd, da, aa, ds, de, st) {
  const sets = [];
  const dot = (arr, lvl, col) => ({
    data: arr.map(t => ({x: t, y: lvl})), showLine: false, pointRadius: 2.9,
    pointBackgroundColor: col, pointBorderColor: '#ffffff', pointBorderWidth: 0.8, order: 0
  });
  sets.push(dot(dd, streamLevels[0], DOT_DD), dot(da, streamLevels[1], DOT_DA), dot(aa, streamLevels[2], DOT_AA));
  [stateLevelE, stateLevelS].forEach(lv => {
    for (let i = 0; i < ds.length; i++) {
      sets.push({data: [{x: ds[i], y: lv[st[i]]}, {x: de[i], y: lv[st[i]]}], showLine: true, pointRadius: 0,
        borderColor: st[i] === 'open' ? LINE_OPEN : LINE_CLOSED, borderWidth: 3.5, borderCapStyle: 'butt', order: 2});
      if (i < ds.length - 1) {
        sets.push({data: [{x: de[i], y: lv[st[i]]}, {x: ds[i + 1], y: lv[st[i + 1]]}], showLine: true, pointRadius: 0,
          borderColor: LINE_TRANS, borderWidth: 3.5, borderCapStyle: 'butt', order: 1});
      }
    }
  });
  return sets;
}

function makeTraj(p) {
  const W = 400;
  const topRel = p.title ? 37 : 10;
  const H = topRel + 110 + 28;
  const canvasTop = p.chartTop - topRel;
  const cv = addCanvas(0, canvasTop, W, H);
  const chart = new Chart(cv, {
    type: 'scatter',
    data: {datasets: trajDatasets(p.dd, p.da, p.aa, p.ds, p.de, p.st)},
    options: {
      responsive: false, animation: false, events: [],
      layout: {padding: {top: p.title ? 0 : 10, left: 0, right: 0, bottom: 0}},
      plugins: {
        legend: {display: false}, tooltip: {enabled: false},
        title: {display: !!p.title, text: p.title || '', color: TXT, font: {family: F, size: 14, weight: 'bold'},
          padding: {top: 19, bottom: 1.2}, fullSize: false}
      },
      scales: {
        x: {type: 'linear', min: 0, max: trajXMax,
          afterBuildTicks: s => { s.ticks = trajXTicks.map(v => ({value: v})); },
          afterFit: s => { s.height = 28; },
          ticks: {color: TXT, font: {family: F, size: 12}, padding: 6, autoSkip: false, maxRotation: 0, callback: v => String(v)},
          grid: {color: GRID, lineWidth: 1, drawTicks: false}, border: {display: false}},
        y: {type: 'linear', position: 'left', min: 0, max: 4,
          afterBuildTicks: s => { s.ticks = leftTickValues.map(v => ({value: v})); },
          afterFit: s => { s.width = 56; },
          ticks: {color: TXT, font: {family: F, size: 12}, padding: 4, autoSkip: false, callback: (v, i) => leftTickLabels[i]},
          grid: {drawOnChartArea: false, drawTicks: true, tickLength: 6, tickColor: TXT, tickWidth: 1.2}, border: {display: false}},
        y2: {type: 'linear', position: 'right', min: 0, max: 4,
          afterBuildTicks: s => { s.ticks = streamLevels.map(v => ({value: v})); },
          afterFit: s => { s.width = 25; },
          ticks: {display: false},
          grid: {color: GRID, lineWidth: 1, drawTicks: true, tickLength: 6, tickColor: TXT, tickWidth: 1.2}, border: {display: false}}
      }
    },
    plugins: [framePlugin]
  });
  const a = chart.chartArea;
  streamLevels.forEach((lv, i) => addLabel(streamLabels[i], a.right + 8, canvasTop + chart.scales.y2.getPixelForValue(lv) - 1, 'stream'));
  leftTickValues.forEach((lv, i) => addLabel(leftAxisNames[i], 12.7, canvasTop + chart.scales.y.getPixelForValue(lv), 'axname', 'translate(-50%,-50%) rotate(-90deg)'));
  addLabel(p.letter, 24, canvasTop + a.top - 21.5, 'letter', 'none');
  return chart;
}

makeTraj({letter: 'a', title: 'Sample Burst Trajectories', chartTop: 37, dd: aDD, da: aDA, aa: aAA, ds: aDwellStart, de: aDwellEnd, st: aDwellState});
makeTraj({letter: 'b', chartTop: 200, dd: bDD, da: bDA, aa: bAA, ds: bDwellStart, de: bDwellEnd, st: bDwellState});
makeTraj({letter: 'c', chartTop: 363, dd: cDD, da: cDA, aa: cAA, ds: cDwellStart, de: cDwellEnd, st: cDwellState});
makeTraj({letter: 'd', chartTop: 526, dd: dDD, da: dDA, aa: dAA, ds: dDwellStart, de: dDwellEnd, st: dDwellState});
makeTraj({letter: 'e', chartTop: 689, dd: eDD, da: eDA, aa: eAA, ds: eDwellStart, de: eDwellEnd, st: eDwellState});

const toXY = arr => arr.map(p => ({x: p[0], y: p[1]}));
const scat = (pts, col, label, order) => ({label, data: pts, showLine: false, pointStyle: 'cross', pointRadius: 1.7,
  pointBorderWidth: 1, pointBorderColor: col, pointBackgroundColor: col, order});

function makeES(p) {
  const cv = addCanvas(405, p.top, 382, p.height);
  const chart = new Chart(cv, {
    type: 'scatter',
    data: {datasets: p.datasets},
    options: {
      responsive: false, animation: false, events: [],
      layout: {padding: {top: 0, left: 0, right: 6.3, bottom: 0}},
      plugins: {
        legend: {display: false}, tooltip: {enabled: false},
        title: {display: true, text: p.title, color: TXT, font: {family: F, size: 14, weight: 'bold'}, padding: p.titlePad, fullSize: false}
      },
      scales: {
        x: {type: 'linear', min: -0.1, max: 1.1,
          afterBuildTicks: s => { s.ticks = esTicks.map(v => ({value: v})); },
          afterFit: s => { s.height = p.xAxisH; },
          ticks: {color: TXT, font: {family: F, size: 12}, padding: 9, autoSkip: false, maxRotation: 0, callback: v => v.toFixed(1)},
          grid: {color: GRID, lineWidth: 1, drawTicks: false}, border: {display: false}},
        y: {type: 'linear', min: -0.1, max: 1.1,
          afterBuildTicks: s => { s.ticks = esTicks.map(v => ({value: v})); },
          afterFit: s => { s.width = 56.7; },
          ticks: {color: TXT, font: {family: F, size: 12}, padding: 9, autoSkip: false, callback: v => v.toFixed(1)},
          grid: {color: GRID, lineWidth: 1, drawTicks: false}, border: {display: false}}
      }
    },
    plugins: [framePlugin]
  });
  const a = chart.chartArea;
  const cx = 405 + (a.left + a.right) / 2;
  addLabel(p.xTitle, cx, p.top + a.bottom + p.xTitleOff, 'atitle', 'translate(-50%,-50%)');
  addLabel(p.yTitle, 418, p.top + (a.top + a.bottom) / 2, 'atitle', 'translate(-50%,-50%) rotate(-90deg)');
  addLabel(p.letter, p.letterX, p.letterY, 'letter', 'none');
  return chart;
}

const centers = stateCenterE.map((e, i) => ({x: e, y: stateCenterS[i]}));
makeES({
  top: 0, height: 410, title: 'Burst based E-S', titlePad: {top: 18.5, bottom: 2}, xAxisH: 47,
  xTitle: 'E<sub>raw</sub>', yTitle: 'S<sub>raw</sub>', xTitleOff: 32, letter: 'f', letterX: 428, letterY: 4,
  datasets: [
    scat(toXY(fClosed.concat(fClosedMore)), seriesColors[0], seriesNames[0], 2),
    scat(toXY(fOpen.concat(fOpenCore, fOpenRing)), seriesColors[1], seriesNames[1], 1),
    scat(toXY(fBoth.concat(fBothMore)), seriesColors[2], seriesNames[2], 0),
    {data: centers, showLine: false, pointStyle: 'circle', pointRadius: 6.5, pointBackgroundColor: 'rgba(196,78,82,0.92)',
      pointBorderColor: 'rgba(240,185,185,0.85)', pointBorderWidth: 2.5, order: -3},
    {data: centers, showLine: false, pointStyle: 'rect', pointRadius: 3.8, pointBackgroundColor: '#000', pointBorderColor: '#000', pointBorderWidth: 0, order: -4},
    {data: centers, showLine: false, pointStyle: 'crossRot', pointRadius: 1.7, pointBorderColor: '#fff', pointBorderWidth: 1, order: -5}
  ]
});

const gOpenPts = toXY(gOpen.concat(gOpenCore, gOpenRing, gOpenAtE0.map(s => [0, s]), gOpenAtS1.map(e => [e, 1])));
const gClosedPts = toXY(gClosed.concat(gClosedCore, gClosedOuter, gClosedAtE1.map(s => [1, s]), gClosedAtE05.map(s => [0.5, s]), gClosedAtE067.map(s => [0.667, s])));
const gChart = makeES({
  top: 425, height: 422, title: 'Dwell based E-S', titlePad: {top: 28.3, bottom: 2.2}, xAxisH: 48.7,
  xTitle: 'E<sub><i>raw</i></sub>', yTitle: 'S<sub>raw</sub>', xTitleOff: 33.5, letter: 'g', letterX: 430, letterY: 439,
  datasets: [
    scat(gClosedPts, seriesColors[0], seriesNames[0], 1),
    scat(gOpenPts, seriesColors[1], seriesNames[1], 0),
    scat([], seriesColors[2], seriesNames[2], 2)
  ]
});

// HTML legend built from the g chart's datasets
(function () {
  const box = document.createElement('div');
  box.className = 'legbox';
  Object.assign(box.style, {left: '466.7px', top: '438.3px', width: '276.6px', height: '17.7px'});
  const itemX = [13.3, 95, 168.3];
  gChart.data.datasets.forEach((ds, i) => {
    const dot = document.createElement('div');
    dot.className = 'legdot';
    Object.assign(dot.style, {left: (itemX[i] - 3) + 'px', top: '4.8px', background: ds.pointBorderColor});
    box.appendChild(dot);
    const t = document.createElement('div');
    t.className = 'legtxt';
    t.textContent = ds.label;
    Object.assign(t.style, {left: (itemX[i] + 18.5) + 'px', top: '3px'});
    box.appendChild(t);
  });
  document.body.appendChild(box);
})();
</script>
</body></html>
